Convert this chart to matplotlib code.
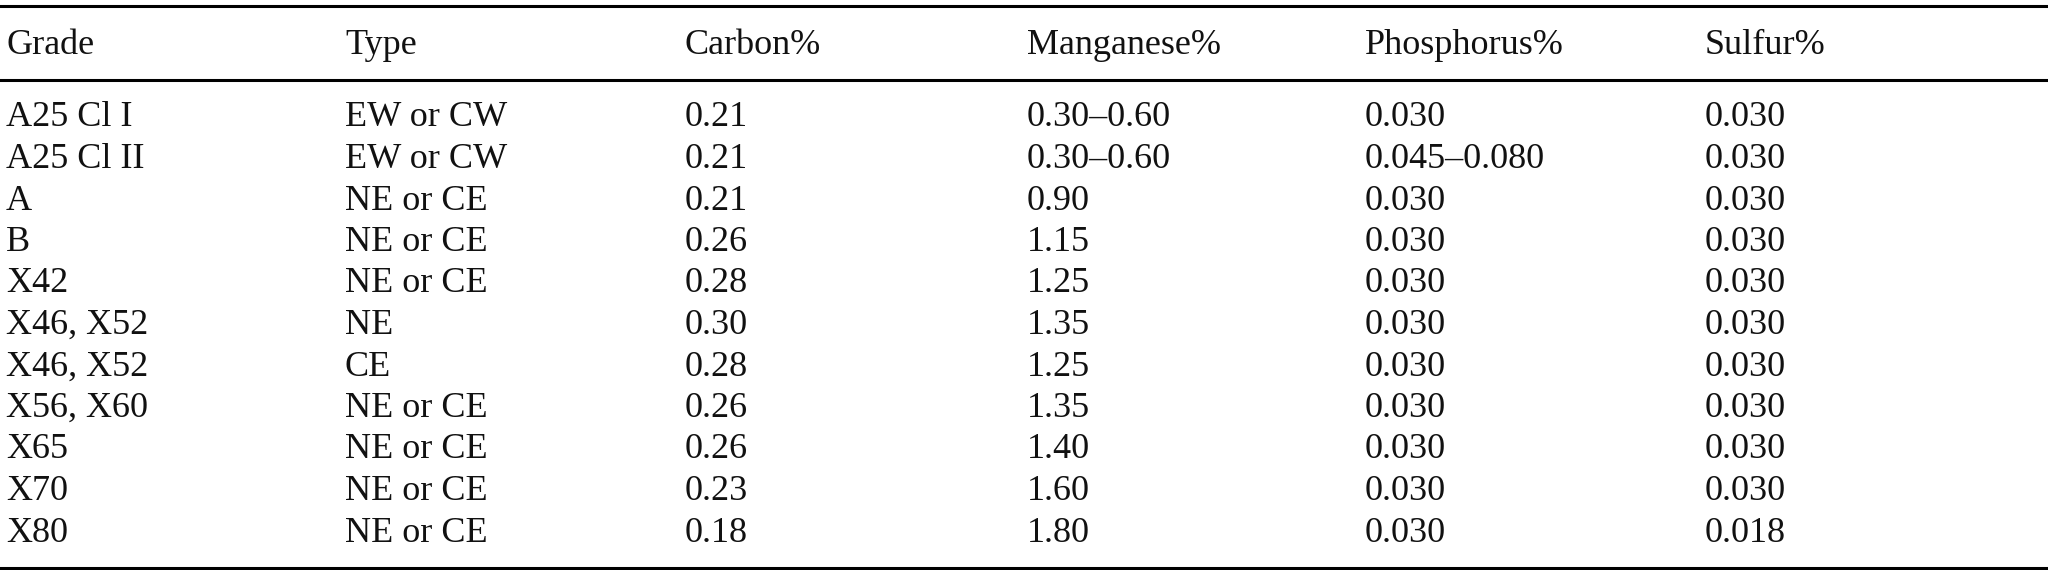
import matplotlib
matplotlib.use("Agg")
import matplotlib.pyplot as plt

headers = ["Grade", "Type", "Carbon%", "Manganese%", "Phosphorus%", "Sulfur%"]
grades = ["A25 Cl I", "A25 Cl II", "A", "B", "X42", "X46, X52", "X46, X52", "X56, X60", "X65", "X70", "X80"]
types = ["EW or CW", "EW or CW", "NE or CE", "NE or CE", "NE or CE", "NE", "CE", "NE or CE", "NE or CE", "NE or CE", "NE or CE"]
carbon = ["0.21", "0.21", "0.21", "0.26", "0.28", "0.30", "0.28", "0.26", "0.26", "0.23", "0.18"]
manganese = ["0.30\u20130.60", "0.30\u20130.60", "0.90", "1.15", "1.25", "1.35", "1.25", "1.35", "1.40", "1.60", "1.80"]
phosphorus = ["0.030", "0.045\u20130.080", "0.030", "0.030", "0.030", "0.030", "0.030", "0.030", "0.030", "0.030", "0.030"]
sulfur = ["0.030", "0.030", "0.030", "0.030", "0.030", "0.030", "0.030", "0.030", "0.030", "0.030", "0.018"]

W, H = 2048, 570
fig = plt.figure(figsize=(W/100, H/100), dpi=100)
ax = fig.add_axes([0, 0, 1, 1])
ax.set_xlim(0, W); ax.set_ylim(H, 0); ax.axis("off")

colx = [6, 345, 685, 1027, 1365, 1705]
fs = 26
font = dict(family=["Liberation Serif", "DejaVu Serif"], fontsize=fs, va="center", ha="left", color="#111111")

for x, h in zip(colx, headers):
    ax.text(x, 45, h, **font)
cols = [grades, types, carbon, manganese, phosphorus, sulfur]
y0, dy = 118, 41.5
for i in range(len(grades)):
    y = y0 + i * dy
    for x, c in zip(colx, cols):
        ax.text(x, y, c[i], **font)

for y in [6, 80, 568]:
    ax.plot([0, W], [y, y], color="black", lw=2.2)

fig.savefig("out.png", dpi=100)
